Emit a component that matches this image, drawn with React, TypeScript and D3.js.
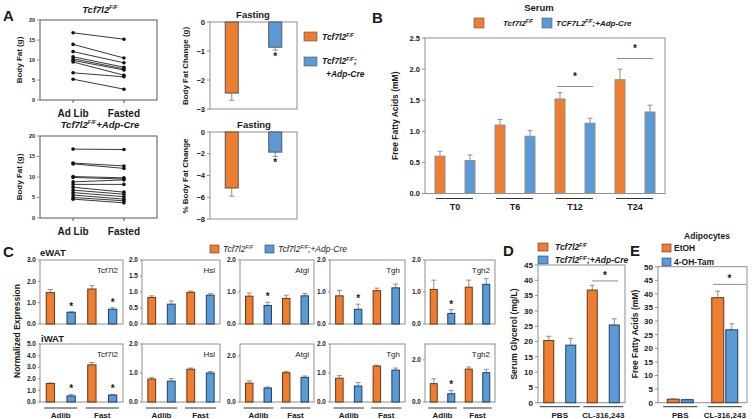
import React from "react";
import * as d3 from "d3";

const FONT = "'Liberation Sans', Arial, sans-serif";
const ORANGE = "#ED7D31";
const BLUE = "#5B9BD5";
const ORANGE_EDGE = "#6b3510";
const BLUE_EDGE = "#1f3f66";
const GRAY = "#8f8f8f";
const INK = "#1a1a1a";

// A: body fat, paired mice
const pairLabels = ["Ad Lib", "Fasted"];
const adLibFF = [16.8, 13.9, 12.1, 10.8, 10.3, 9.9, 9.5, 6.8, 5.2];
const fastedFF = [15.2, 10.5, 9.3, 8.2, 7.8, 7.5, 6.2, 5.8, 2.7];
const adLibKO = [16.8, 13.4, 13.2, 10.1, 9.9, 8.8, 8.2, 7.5, 6.8, 6.2, 5.6, 5.0, 4.6];
const fastedKO = [16.7, 12.7, 12.1, 9.8, 9.5, 9.3, 8.2, 6.3, 5.8, 5.2, 4.6, 4.2, 3.7];
const bodyFatTicks = [0, 5, 10, 15, 20];

// A: fasting change
const fatChange = [-2.45, -0.87];
const fatChangeErr = [0.25, 0.1];
const fatChangeTicks = [0, -1, -2, -3];
const pctChange = [-5.15, -1.85];
const pctChangeErr = [0.75, 0.4];
const pctChangeTicks = [0, -2, -4, -6, -8];

// B: serum FFA
const timeLabels = ["T0", "T6", "T12", "T24"];
const serumFF = [0.6, 1.1, 1.52, 1.83];
const serumFFErr = [0.08, 0.09, 0.1, 0.17];
const serumKO = [0.53, 0.92, 1.13, 1.31];
const serumKOErr = [0.09, 0.09, 0.08, 0.11];
const serumTicks = [0, 0.5, 1.0, 1.5, 2.0, 2.5];

// C: expression (Adlib FF, Adlib KO, Fast FF, Fast KO)
const genes = ["Tcf7l2", "Hsl", "Atgl", "Tgh", "Tgh2"];
const condLabels = ["Adlib", "Fast"];
const eWATMeans = [
  [1.47, 0.55, 1.64, 0.69],
  [0.83, 0.62, 0.99, 0.9],
  [0.87, 0.58, 0.8, 0.88],
  [0.88, 0.46, 1.04, 1.13],
  [1.08, 0.33, 1.15, 1.24],
];
const eWATErrs = [
  [0.15, 0.02, 0.16, 0.07],
  [0.05, 0.1, 0.04, 0.05],
  [0.1, 0.1, 0.1, 0.07],
  [0.17, 0.16, 0.08, 0.12],
  [0.29, 0.12, 0.22, 0.18],
];
const eWATStars = [
  [0, 1, 0, 1],
  [0, 0, 0, 0],
  [0, 1, 0, 0],
  [0, 1, 0, 0],
  [0, 1, 0, 0],
];
const eWATMax = [3, 2, 2, 2, 2];
const eWATTicks = [[0, 1, 2, 3], [0, 0.5, 1, 1.5, 2], [0, 1, 2], [0, 1, 2], [0, 1, 2]];
const iWATMeans = [
  [1.6, 0.52, 3.2, 0.6],
  [0.79, 0.72, 1.13, 1.0],
  [0.82, 0.61, 1.27, 1.07],
  [0.82, 0.55, 1.24, 1.1],
  [0.87, 0.39, 1.56, 1.39],
];
const iWATErrs = [
  [0.03, 0.13, 0.2, 0.05],
  [0.05, 0.09, 0.04, 0.05],
  [0.1, 0.04, 0.05, 0.06],
  [0.09, 0.12, 0.03, 0.07],
  [0.23, 0.16, 0.1, 0.16],
];
const iWATStars = [
  [0, 1, 0, 1],
  [0, 0, 0, 0],
  [0, 0, 0, 0],
  [0, 0, 0, 0],
  [0, 1, 0, 0],
];
const iWATMax = [5, 2, 2.52, 2, 2.75];
const iWATTicks = [[0, 1, 2, 3, 4, 5], [0, 1, 2], [0, 2], [0, 1, 2], [0, 2]];

// D: serum glycerol
const treatLabels = ["PBS", "CL-316,243"];
const glycerolFF = [20.3, 36.8];
const glycerolFFErr = [1.4, 1.6];
const glycerolKO = [18.8, 25.4];
const glycerolKOErr = [2.2, 2.0];
const glycerolTicks = [0, 5, 10, 15, 20, 25, 30, 35, 40, 45];

// E: adipocyte FFA
const ffaEtOH = [1.3, 38.6];
const ffaEtOHErr = [0.1, 2.4];
const ffaTam = [1.1, 26.8];
const ffaTamErr = [0.1, 2.2];
const ffaTicks = [0, 5, 10, 15, 20, 25, 30, 35, 40, 45, 50];

// genotype label with F/F superscript
const Geno = ({ x, y, size, pre = "Tcf7l2", post = "", anchor = "start", weight = "bold" }: any) => (
  <text x={x} y={y} fontSize={size} fontStyle="italic" fontWeight={weight} textAnchor={anchor} fill={INK}>
    {pre}
    <tspan dy={-size * 0.4} fontSize={size * 0.6}>F/F</tspan>
    <tspan dy={size * 0.4}>{post}</tspan>
  </text>
);

const YTicks = ({ y, x0, ticks, fmt, size = 7, len = 3, color = INK }: any) => (
  <g>
    {ticks.map((t: number) => (
      <g key={t}>
        <line x1={x0 - len} x2={x0} y1={y(t)} y2={y(t)} stroke={GRAY} />
        <text x={x0 - len - 2} y={y(t)} dy="0.35em" fontSize={size} fontWeight="bold" textAnchor="end" fill={color}>
          {fmt(t)}
        </text>
      </g>
    ))}
  </g>
);

const YTitle = ({ x, y, text, size = 8.5 }: any) => (
  <text transform={`translate(${x},${y}) rotate(-90)`} textAnchor="middle" fontSize={size} fontWeight="bold" fill={INK}>
    {text}
  </text>
);

const Bar = ({ x, w, y0, y1, yErr, fill, edge, star, starBelow }: any) => {
  const top = Math.min(y0, y1);
  const h = Math.abs(y1 - y0);
  const cx = x + w / 2;
  return (
    <g>
      <line x1={cx} x2={cx} y1={y1} y2={yErr} stroke={GRAY} />
      <line x1={cx - 2.5} x2={cx + 2.5} y1={yErr} y2={yErr} stroke={GRAY} />
      <rect x={x} y={top} width={w} height={h} fill={fill} stroke={edge} strokeWidth={1} />
      {star ? (
        <text x={cx} y={starBelow ? yErr + 10 : yErr - 2} textAnchor="middle" fontSize={10} fontWeight="bold" fill={INK}>
          *
        </text>
      ) : null}
    </g>
  );
};

function PairedPanel({ top, bottom, adlib, fasted }: any) {
  const left = 40, right = 157;
  const y = d3.scaleLinear().domain([0, 20]).range([bottom, top]);
  const x = d3.scalePoint().domain(pairLabels).range([left, right]).padding(0.65);
  const xa = x("Ad Lib") as number;
  const xf = x("Fasted") as number;
  return (
    <g>
      <rect x={left} y={top} width={right - left} height={bottom - top} fill="none" stroke="#555" />
      <YTicks y={y} x0={left} ticks={bodyFatTicks} fmt={d3.format("d")} size={5.5} />
      {pairLabels.map((l) => (
        <g key={l}>
          <line x1={x(l)} x2={x(l)} y1={bottom} y2={bottom + 3} stroke="#555" />
          <text x={x(l)} y={bottom + 17} textAnchor="middle" fontSize={10} fontWeight="bold" fill={INK}>
            {l}
          </text>
        </g>
      ))}
      {adlib.map((v: number, i: number) => (
        <g key={i}>
          <line x1={xa} x2={xf} y1={y(v)} y2={y(fasted[i])} stroke="#222" strokeWidth={0.9} />
          <circle cx={xa} cy={y(v)} r={1.8} fill="#111" />
          <circle cx={xf} cy={y(fasted[i])} r={1.8} fill="#111" />
        </g>
      ))}
    </g>
  );
}

function ChangePanel({ top, bottom, min, ticks, vals, errs }: any) {
  const left = 210, right = 297;
  const y = d3.scaleLinear().domain([min, 0]).range([bottom, top]);
  const x = d3.scalePoint().domain(["ff", "ko"]).range([left, right]).padding(0.5);
  const w = 13;
  return (
    <g>
      <rect x={left} y={top} width={right - left} height={bottom - top} fill="none" stroke={GRAY} />
      <YTicks y={y} x0={left} ticks={ticks} fmt={d3.format("d")} size={7.5} />
      {["ff", "ko"].map((k, i) => (
        <Bar
          key={k}
          x={(x(k) as number) - w / 2}
          w={w}
          y0={y(0)}
          y1={y(vals[i])}
          yErr={y(vals[i] - errs[i])}
          fill={i === 0 ? ORANGE : BLUE}
          edge="#555"
          star={i === 1}
          starBelow
        />
      ))}
    </g>
  );
}

function GenePanel({ left, right, top, bottom, gene, vals, errs, stars, ymax, ticks, showX }: any) {
  const y = d3.scaleLinear().domain([0, ymax]).range([bottom, top]);
  const x = d3.scaleBand<number>().domain([0, 1, 2, 3]).range([left, right]).paddingInner(0.6).paddingOuter(0.3);
  const w = x.bandwidth();
  return (
    <g>
      <rect x={left} y={top} width={right - left} height={bottom - top} fill="none" stroke={GRAY} />
      <YTicks y={y} x0={left} ticks={ticks} fmt={d3.format(".1f")} size={6.5} len={2} />
      <text x={right - 5} y={top + 13} textAnchor="end" fontSize={8} fill={INK}>
        {gene}
      </text>
      {vals.map((v: number, i: number) => (
        <Bar
          key={i}
          x={x(i)}
          w={w}
          y0={y(0)}
          y1={y(v)}
          yErr={y(v + errs[i])}
          fill={i % 2 === 0 ? ORANGE : BLUE}
          edge={i % 2 === 0 ? ORANGE_EDGE : BLUE_EDGE}
          star={stars[i]}
        />
      ))}
      {showX
        ? condLabels.map((c, g) => {
            const x0 = (x(g * 2) as number) - 2;
            const x1 = (x(g * 2 + 1) as number) + w + 2;
            return (
              <g key={c}>
                <line x1={x0} x2={x1} y1={bottom + 6} y2={bottom + 6} stroke="#333" />
                <text x={(x0 + x1) / 2} y={bottom + 16} textAnchor="middle" fontSize={8} fontWeight="bold" fill={INK}>
                  {c}
                </text>
              </g>
            );
          })
        : null}
    </g>
  );
}

function TwoGroupPanel({ left, right, top, bottom, max, ticks, a, aErr, b, bErr, w, inner, sig }: any) {
  const y = d3.scaleLinear().domain([0, max]).range([bottom, top]);
  const g = d3.scaleBand().domain(treatLabels).range([left, right]);
  const step = g.bandwidth();
  return (
    <g>
      <rect x={left} y={top} width={right - left} height={bottom - top} fill="none" stroke={GRAY} />
      <YTicks y={y} x0={left} ticks={ticks} fmt={d3.format("d")} size={8} />
      {treatLabels.map((t, i) => {
        const gx = g(t) as number;
        const c = gx + step / 2;
        const xa = c - inner - w;
        const xb = c + inner;
        return (
          <g key={t}>
            <Bar x={xa} w={w} y0={y(0)} y1={y(a[i])} yErr={y(a[i] + aErr[i])} fill={ORANGE} edge={ORANGE_EDGE} />
            <Bar x={xb} w={w} y0={y(0)} y1={y(b[i])} yErr={y(b[i] + bErr[i])} fill={BLUE} edge={BLUE_EDGE} />
            <line x1={xa - 4} x2={xb + w + 4} y1={bottom + 4} y2={bottom + 4} stroke="#333" />
            <text x={c} y={bottom + 15} textAnchor="middle" fontSize={8} fontWeight="bold" fill={INK}>
              {t}
            </text>
          </g>
        );
      })}
      <line x1={sig[0]} x2={sig[1]} y1={y(sig[2])} y2={y(sig[2])} stroke={GRAY} />
      <text x={(sig[0] + sig[1]) / 2} y={y(sig[2]) - 2} textAnchor="middle" fontSize={10} fontWeight="bold" fill={INK}>
        *
      </text>
    </g>
  );
}

function SerumPanel() {
  const left = 425, right = 665, top = 38, bottom = 193.5;
  const y = d3.scaleLinear().domain([0, 2.5]).range([bottom, top]);
  const g = d3.scaleBand().domain(timeLabels).range([left, right]);
  const inner = d3.scalePoint().domain(["ff", "ko"]).range([0, g.bandwidth()]).padding(0.5);
  const w = 10;
  const sigs = [
    { t: "T12", v: 1.72 },
    { t: "T24", v: 2.17 },
  ];
  return (
    <g>
      <rect x={left} y={top} width={right - left} height={bottom - top} fill="none" stroke={GRAY} />
      <YTicks y={y} x0={left} ticks={serumTicks} fmt={d3.format(".1f")} size={7.5} />
      <YTitle x={398} y={(top + bottom) / 2} text="Free Fatty Acids (mM)" size={8.5} />
      {timeLabels.map((t, i) => {
        const gx = g(t) as number;
        const xa = gx + (inner("ff") as number) - w / 2;
        const xb = gx + (inner("ko") as number) - w / 2;
        return (
          <g key={t}>
            <Bar x={xa} w={w} y0={y(0)} y1={y(serumFF[i])} yErr={y(serumFF[i] + serumFFErr[i])} fill={ORANGE} edge={GRAY} />
            <Bar x={xb} w={w} y0={y(0)} y1={y(serumKO[i])} yErr={y(serumKO[i] + serumKOErr[i])} fill={BLUE} edge={GRAY} />
            <line x1={xa + 1} x2={xb + w - 2} y1={bottom + 5} y2={bottom + 5} stroke="#333" />
            <text x={gx + g.bandwidth() / 2} y={bottom + 16} textAnchor="middle" fontSize={9} fontWeight="bold" fill={INK}>
              {t}
            </text>
          </g>
        );
      })}
      {sigs.map((s) => {
        const gx = g(s.t) as number;
        const x0 = gx + (inner("ff") as number) - 3;
        const x1 = gx + (inner("ko") as number) + 3;
        return (
          <g key={s.t}>
            <line x1={x0} x2={x1} y1={y(s.v)} y2={y(s.v)} stroke={GRAY} />
            <text x={(x0 + x1) / 2} y={y(s.v) - 7} textAnchor="middle" fontSize={10} fontWeight="bold" fill={INK}>
              *
            </text>
          </g>
        );
      })}
      <text x={539} y={11} textAnchor="middle" fontSize={9.5} fontWeight="bold" fill={INK}>
        Serum
      </text>
      <rect x={474} y={18} width={10} height={10} fill={ORANGE} stroke="#555" strokeWidth={0.6} />
      <Geno x={503} y={26} size={8} />
      <rect x={542} y={18} width={10} height={10} fill={BLUE} stroke="#555" strokeWidth={0.6} />
      <Geno x={556} y={26} size={8} pre="TCF7L2" post=";+Adp-Cre" />
    </g>
  );
}

export default function App() {
  const lefts = [40, 142, 240, 330, 425];
  const rights = [123, 220, 314, 405, 495];
  return (
    <svg width={754} height={419} style={{ position: "absolute", left: 0, top: 0, fontFamily: FONT }}>
      <rect width={754} height={419} fill="#fff" />

      {/* panel A */}
      <text x={3} y={21} fontSize={15} fontWeight="bold" fill={INK}>A</text>
      <Geno x={100} y={13} size={9.5} anchor="middle" />
      <PairedPanel top={20} bottom={100} adlib={adLibFF} fasted={fastedFF} />
      <YTitle x={22} y={60} text="Body Fat (g)" size={8} />
      <Geno x={100} y={128} size={9.5} anchor="middle" post="+Adp-Cre" />
      <PairedPanel top={136} bottom={218} adlib={adLibKO} fasted={fastedKO} />
      <YTitle x={22} y={177} text="Body Fat (g)" size={8} />

      <text x={253} y={18} textAnchor="middle" fontSize={9.5} fontWeight="bold" fill={INK}>Fasting</text>
      <ChangePanel top={22} bottom={109} min={-3} ticks={fatChangeTicks} vals={fatChange} errs={fatChangeErr} />
      <YTitle x={188} y={66} text="Body Fat Change (g)" size={8} />
      <text x={254} y={128} textAnchor="middle" fontSize={9.5} fontWeight="bold" fill={INK}>Fasting</text>
      <ChangePanel top={132} bottom={219} min={-8} ticks={pctChangeTicks} vals={pctChange} errs={pctChangeErr} />
      <YTitle x={188} y={176} text="% Body Fat Change" size={8} />

      <rect x={304} y={32} width={13} height={9} fill={ORANGE} stroke="#555" strokeWidth={0.6} />
      <Geno x={322} y={40} size={8.5} />
      <rect x={304} y={57} width={13} height={9} fill={BLUE} stroke="#555" strokeWidth={0.6} />
      <Geno x={322} y={64} size={8.5} post=";" />
      <text x={326} y={77} fontSize={8.5} fontStyle="italic" fontWeight="bold" fill={INK}>+Adp-Cre</text>

      {/* panel B */}
      <text x={372} y={23} fontSize={15} fontWeight="bold" fill={INK}>B</text>
      <SerumPanel />

      {/* panel C */}
      <text x={3} y={257} fontSize={15} fontWeight="bold" fill={INK}>C</text>
      <text x={40} y={256} fontSize={9.5} fontWeight="bold" fill={INK}>eWAT</text>
      <text x={41} y={342} fontSize={9.5} fontWeight="bold" fill={INK}>iWAT</text>
      <YTitle x={20} y={331} text="Normalized Expression" size={8.5} />
      <rect x={210} y={245} width={9} height={8} fill={ORANGE} stroke={ORANGE_EDGE} strokeWidth={0.6} />
      <Geno x={223} y={252} size={8.5} weight="normal" />
      <rect x={265} y={245} width={9} height={8} fill={BLUE} stroke={BLUE_EDGE} strokeWidth={0.6} />
      <Geno x={278} y={252} size={8.5} weight="normal" post=";+Adp-Cre" />
      {genes.map((gene, i) => (
        <g key={gene}>
          <GenePanel
            left={lefts[i]}
            right={rights[i]}
            top={260}
            bottom={324}
            gene={gene}
            vals={eWATMeans[i]}
            errs={eWATErrs[i]}
            stars={eWATStars[i]}
            ymax={eWATMax[i]}
            ticks={eWATTicks[i]}
          />
          <GenePanel
            left={lefts[i]}
            right={rights[i]}
            top={344}
            bottom={402}
            gene={gene}
            vals={iWATMeans[i]}
            errs={iWATErrs[i]}
            stars={iWATStars[i]}
            ymax={iWATMax[i]}
            ticks={iWATTicks[i]}
            showX
          />
        </g>
      ))}

      {/* panel D */}
      <text x={503} y={256} fontSize={15} fontWeight="bold" fill={INK}>D</text>
      <rect x={538} y={243} width={10} height={8} fill={ORANGE} stroke={ORANGE_EDGE} strokeWidth={0.6} />
      <Geno x={555} y={250} size={8.5} />
      <rect x={538} y={256} width={10} height={8} fill={BLUE} stroke={BLUE_EDGE} strokeWidth={0.6} />
      <Geno x={555} y={263} size={8.5} post=";+Adp-Cre" />
      <TwoGroupPanel
        left={538}
        right={625}
        top={265}
        bottom={402.7}
        max={45}
        ticks={glycerolTicks}
        a={glycerolFF}
        aErr={glycerolFFErr}
        b={glycerolKO}
        bErr={glycerolKOErr}
        w={10}
        inner={6}
        sig={[592, 618, 39.8]}
      />
      <YTitle x={517} y={334} text="Serum Glycerol (mg/L)" size={8.5} />

      {/* panel E */}
      <text x={630} y={256} fontSize={15} fontWeight="bold" fill={INK}>E</text>
      <text x={707} y={239} textAnchor="middle" fontSize={8.5} fontWeight="bold" fill={INK}>Adipocytes</text>
      <rect x={662} y={244} width={9} height={8} fill={ORANGE} stroke={ORANGE_EDGE} strokeWidth={0.6} />
      <text x={674} y={251} fontSize={8.5} fontWeight="bold" fill={INK}>EtOH</text>
      <rect x={662} y={258} width={9} height={8} fill={BLUE} stroke={BLUE_EDGE} strokeWidth={0.6} />
      <text x={674} y={265} fontSize={8.5} fontWeight="bold" fill={INK}>4-OH-Tam</text>
      <TwoGroupPanel
        left={658}
        right={747}
        top={266.7}
        bottom={402.7}
        max={50}
        ticks={ffaTicks}
        a={ffaEtOH}
        aErr={ffaEtOHErr}
        b={ffaTam}
        bErr={ffaTamErr}
        w={12}
        inner={1}
        sig={[713, 746, 43.5]}
      />
      <YTitle x={638} y={334} text="Free Fatty Acids (mM)" size={8.5} />
    </svg>
  );
}
